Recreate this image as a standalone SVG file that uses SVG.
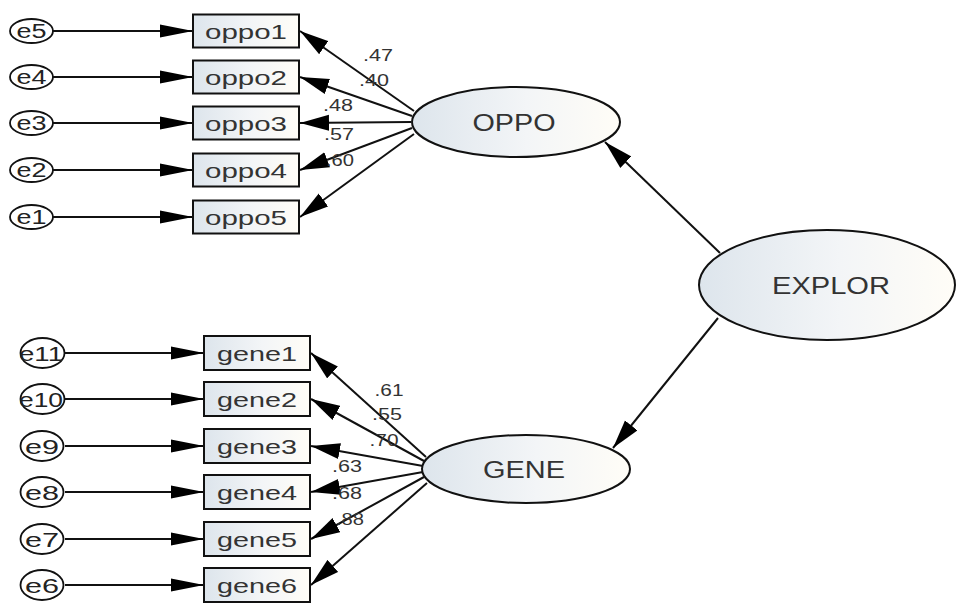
<svg xmlns="http://www.w3.org/2000/svg" width="960" height="603" viewBox="0 0 960 603">
<defs>
<linearGradient id="g" x1="0" y1="0" x2="1" y2="0">
<stop offset="0" stop-color="#dde5ec"/>
<stop offset="0.55" stop-color="#f3f5f7"/>
<stop offset="1" stop-color="#fffdf7"/>
</linearGradient>
<marker id="ah" markerUnits="userSpaceOnUse" markerWidth="33" markerHeight="14" refX="33" refY="7" orient="auto">
<path d="M0,0.5 L33,7 L0,13.5 Z" fill="#000"/>
</marker>
<marker id="ad" markerUnits="userSpaceOnUse" markerWidth="29" markerHeight="17" refX="29" refY="8.5" orient="auto">
<path d="M0,0.5 L29,8.5 L0,16.5 Z" fill="#000"/>
</marker>
<style>
.box{fill:url(#g);stroke:#111;stroke-width:2}
.lat{fill:url(#g);stroke:#111;stroke-width:2}
.err{fill:#fff;stroke:#111;stroke-width:1.8}
.t{font-family:"Liberation Sans",Arial,sans-serif;fill:#333;text-anchor:middle}
.bt{font-size:21px}
.et{font-size:20px;fill:#222}
.lt{font-size:23px}
.nt{font-size:17px}
.c{stroke:#111;stroke-width:2;fill:none}
.ch{marker-end:url(#ah)}
.cd{marker-end:url(#ad)}
</style>
</defs>
<rect width="960" height="603" fill="#fff"/>

<g id="connectors">
<line class="c ch" x1="53" y1="31" x2="193" y2="31"/>
<line class="c ch" x1="53" y1="77" x2="193" y2="77"/>
<line class="c ch" x1="53" y1="123" x2="193" y2="123"/>
<line class="c ch" x1="53" y1="170" x2="193" y2="170"/>
<line class="c ch" x1="53" y1="217" x2="193" y2="217"/>
<line class="c ch" x1="65" y1="353" x2="204" y2="353"/>
<line class="c ch" x1="65" y1="399" x2="204" y2="399"/>
<line class="c ch" x1="65" y1="446" x2="204" y2="446"/>
<line class="c ch" x1="65" y1="492" x2="204" y2="492"/>
<line class="c ch" x1="65" y1="539" x2="204" y2="539"/>
<line class="c ch" x1="65" y1="585" x2="204" y2="585"/>

<line class="c cd" x1="414" y1="111" x2="300" y2="31"/>
<line class="c cd" x1="412" y1="116" x2="300" y2="77"/>
<line class="c cd" x1="411" y1="122" x2="300" y2="123"/>
<line class="c cd" x1="412" y1="128" x2="300" y2="170"/>
<line class="c cd" x1="414" y1="134" x2="300" y2="217"/>

<line class="c cd" x1="426" y1="457" x2="311" y2="353"/>
<line class="c cd" x1="424" y1="461" x2="311" y2="399"/>
<line class="c cd" x1="423" y1="466" x2="311" y2="446"/>
<line class="c cd" x1="423" y1="472" x2="311" y2="492"/>
<line class="c cd" x1="424" y1="477" x2="311" y2="539"/>
<line class="c cd" x1="427" y1="483" x2="311" y2="585"/>

<line class="c cd" x1="720" y1="253" x2="605" y2="142"/>
<line class="c cd" x1="718" y1="318" x2="613" y2="448"/>

<text class="t nt" x="378" y="61" textLength="30" lengthAdjust="spacingAndGlyphs">.47</text>
<text class="t nt" x="374" y="86" textLength="30" lengthAdjust="spacingAndGlyphs">.40</text>
<text class="t nt" x="338" y="111" textLength="30" lengthAdjust="spacingAndGlyphs">.48</text>
<text class="t nt" x="339" y="140" textLength="30" lengthAdjust="spacingAndGlyphs">.57</text>
<text class="t nt" x="340" y="166" textLength="28" lengthAdjust="spacingAndGlyphs">.60</text>

<text class="t nt" x="389" y="396" textLength="29" lengthAdjust="spacingAndGlyphs">.61</text>
<text class="t nt" x="387" y="420" textLength="30" lengthAdjust="spacingAndGlyphs">.55</text>
<text class="t nt" x="384" y="446" textLength="29" lengthAdjust="spacingAndGlyphs">.70</text>
<text class="t nt" x="347" y="472" textLength="30" lengthAdjust="spacingAndGlyphs">.63</text>
<text class="t nt" x="347" y="499" textLength="30" lengthAdjust="spacingAndGlyphs">.68</text>
<text class="t nt" x="350" y="525" textLength="28" lengthAdjust="spacingAndGlyphs">.88</text>
</g>

<g id="e5"><ellipse class="err" cx="31.5" cy="31" rx="21.5" ry="12"/><text class="t et" x="31.5" y="38" textLength="30" lengthAdjust="spacingAndGlyphs">e5</text></g>
<g id="e4"><ellipse class="err" cx="31.5" cy="77" rx="21.5" ry="12"/><text class="t et" x="31.5" y="84" textLength="30" lengthAdjust="spacingAndGlyphs">e4</text></g>
<g id="e3"><ellipse class="err" cx="31.5" cy="123" rx="21.5" ry="12"/><text class="t et" x="31.5" y="130" textLength="30" lengthAdjust="spacingAndGlyphs">e3</text></g>
<g id="e2"><ellipse class="err" cx="31.5" cy="170" rx="21.5" ry="12"/><text class="t et" x="31.5" y="177" textLength="30" lengthAdjust="spacingAndGlyphs">e2</text></g>
<g id="e1"><ellipse class="err" cx="31.5" cy="217" rx="21.5" ry="12"/><text class="t et" x="31.5" y="224" textLength="30" lengthAdjust="spacingAndGlyphs">e1</text></g>

<g id="e11"><ellipse class="err" cx="42.5" cy="353" rx="22" ry="15"/><text class="t et" x="41" y="361" textLength="44" lengthAdjust="spacingAndGlyphs">e11</text></g>
<g id="e10"><ellipse class="err" cx="42.5" cy="399" rx="22" ry="15"/><text class="t et" x="41" y="407" textLength="44" lengthAdjust="spacingAndGlyphs">e10</text></g>
<g id="e9"><ellipse class="err" cx="42" cy="446" rx="21.5" ry="15"/><text class="t et" x="42" y="454" textLength="34" lengthAdjust="spacingAndGlyphs">e9</text></g>
<g id="e8"><ellipse class="err" cx="42" cy="492" rx="21.5" ry="15"/><text class="t et" x="42" y="500" textLength="34" lengthAdjust="spacingAndGlyphs">e8</text></g>
<g id="e7"><ellipse class="err" cx="42" cy="539" rx="21.5" ry="15"/><text class="t et" x="42" y="547" textLength="34" lengthAdjust="spacingAndGlyphs">e7</text></g>
<g id="e6"><ellipse class="err" cx="42" cy="585" rx="21.5" ry="15"/><text class="t et" x="42" y="593" textLength="34" lengthAdjust="spacingAndGlyphs">e6</text></g>

<g id="oppo1"><rect class="box" x="193" y="14.5" width="106" height="33"/><text class="t bt" x="246" y="38.5" textLength="82" lengthAdjust="spacingAndGlyphs">oppo1</text></g>
<g id="oppo2"><rect class="box" x="193" y="60.5" width="106" height="33"/><text class="t bt" x="246" y="84.5" textLength="82" lengthAdjust="spacingAndGlyphs">oppo2</text></g>
<g id="oppo3"><rect class="box" x="193" y="106.5" width="106" height="33"/><text class="t bt" x="246" y="130.5" textLength="82" lengthAdjust="spacingAndGlyphs">oppo3</text></g>
<g id="oppo4"><rect class="box" x="193" y="153.5" width="106" height="33"/><text class="t bt" x="246" y="177.5" textLength="82" lengthAdjust="spacingAndGlyphs">oppo4</text></g>
<g id="oppo5"><rect class="box" x="193" y="200.5" width="106" height="33"/><text class="t bt" x="246" y="224.5" textLength="82" lengthAdjust="spacingAndGlyphs">oppo5</text></g>

<g id="gene1"><rect class="box" x="204" y="336" width="106" height="34"/><text class="t bt" x="257" y="361" textLength="80" lengthAdjust="spacingAndGlyphs">gene1</text></g>
<g id="gene2"><rect class="box" x="204" y="382" width="106" height="34"/><text class="t bt" x="257" y="407" textLength="80" lengthAdjust="spacingAndGlyphs">gene2</text></g>
<g id="gene3"><rect class="box" x="204" y="429" width="106" height="34"/><text class="t bt" x="257" y="454" textLength="80" lengthAdjust="spacingAndGlyphs">gene3</text></g>
<g id="gene4"><rect class="box" x="204" y="475" width="106" height="34"/><text class="t bt" x="257" y="500" textLength="80" lengthAdjust="spacingAndGlyphs">gene4</text></g>
<g id="gene5"><rect class="box" x="204" y="522" width="106" height="34"/><text class="t bt" x="257" y="547" textLength="80" lengthAdjust="spacingAndGlyphs">gene5</text></g>
<g id="gene6"><rect class="box" x="204" y="568" width="106" height="34"/><text class="t bt" x="257" y="593" textLength="80" lengthAdjust="spacingAndGlyphs">gene6</text></g>

<g id="OPPO"><ellipse class="lat" cx="516" cy="122" rx="104" ry="35"/><text class="t lt" x="514" y="130.5" textLength="83" lengthAdjust="spacingAndGlyphs">OPPO</text></g>
<g id="GENE"><ellipse class="lat" cx="526" cy="469" rx="104" ry="34"/><text class="t lt" x="524" y="477.5" textLength="82" lengthAdjust="spacingAndGlyphs">GENE</text></g>
<g id="EXPLOR"><ellipse class="lat" cx="827" cy="285" rx="128" ry="55"/><text class="t lt" x="831" y="293.5" textLength="118" lengthAdjust="spacingAndGlyphs">EXPLOR</text></g>
</svg>
